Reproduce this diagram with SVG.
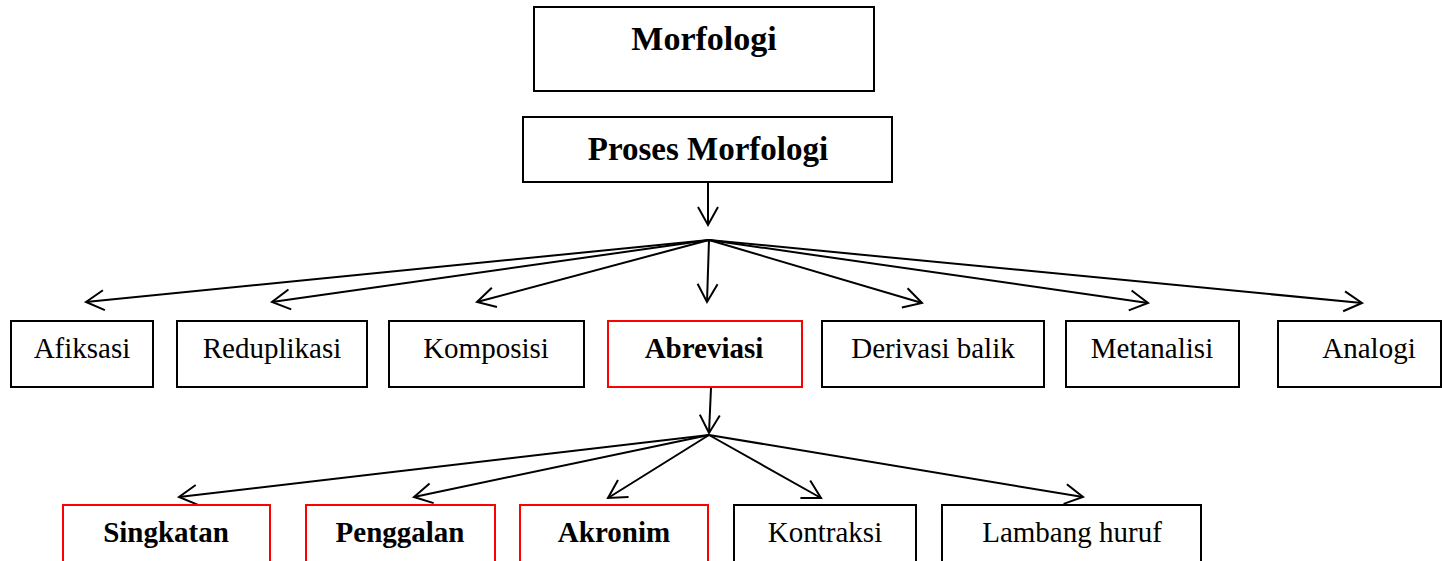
<svg xmlns="http://www.w3.org/2000/svg" width="1442" height="561" viewBox="0 0 1442 561">
<style>
.box{fill:#fff;stroke:#000;stroke-width:2}
.red{fill:#fff;stroke:#ff0000;stroke-width:2}
.t{font-family:"Liberation Serif","Times New Roman",serif;font-size:29px;fill:#000;text-anchor:middle}
.b{font-weight:bold}
.c{fill:none;stroke:#000;stroke-width:2}
</style>
<defs>
<marker id="ah" markerUnits="userSpaceOnUse" markerWidth="24" markerHeight="24" viewBox="-20 -12 22 24" refX="0" refY="0" orient="auto">
<path d="M-18,-10 L0,0 L-18,10" fill="none" stroke="#000" stroke-width="2"/>
</marker>
</defs>
<rect width="1442" height="561" fill="#fff"/>
<g id="connectors">
<line class="c" x1="708" y1="183" x2="708" y2="225" marker-end="url(#ah)"/>
<line class="c" x1="709" y1="240" x2="86" y2="302" marker-end="url(#ah)"/>
<line class="c" x1="709" y1="240" x2="272" y2="302" marker-end="url(#ah)"/>
<line class="c" x1="709" y1="240" x2="477" y2="302" marker-end="url(#ah)"/>
<line class="c" x1="709" y1="240" x2="707" y2="302" marker-end="url(#ah)"/>
<line class="c" x1="709" y1="240" x2="922" y2="303" marker-end="url(#ah)"/>
<line class="c" x1="709" y1="240" x2="1148" y2="303" marker-end="url(#ah)"/>
<line class="c" x1="709" y1="240" x2="1362" y2="303" marker-end="url(#ah)"/>
<line class="c" x1="711" y1="388" x2="709" y2="433" marker-end="url(#ah)"/>
<line class="c" x1="709" y1="435" x2="179" y2="497" marker-end="url(#ah)"/>
<line class="c" x1="709" y1="435" x2="414" y2="497" marker-end="url(#ah)"/>
<line class="c" x1="709" y1="435" x2="608" y2="498" marker-end="url(#ah)"/>
<line class="c" x1="709" y1="435" x2="821" y2="498" marker-end="url(#ah)"/>
<line class="c" x1="709" y1="435" x2="1083" y2="497" marker-end="url(#ah)"/>
</g>
<g id="morfologi"><rect class="box" x="534" y="7" width="340" height="84"/><text class="t b" x="704" y="50" style="font-size:34px">Morfologi</text></g>
<g id="proses"><rect class="box" x="523" y="117" width="369" height="65"/><text class="t b" x="708" y="160" style="font-size:33px">Proses Morfologi</text></g>
<g id="afiksasi"><rect class="box" x="11" y="321" width="142" height="66"/><text class="t" x="82" y="358">Afiksasi</text></g>
<g id="reduplikasi"><rect class="box" x="177" y="321" width="190" height="66"/><text class="t" x="272" y="358">Reduplikasi</text></g>
<g id="komposisi"><rect class="box" x="389" y="321" width="195" height="66"/><text class="t" x="486" y="358">Komposisi</text></g>
<g id="abreviasi"><rect class="red" x="608" y="321" width="194" height="66"/><text class="t b" x="704" y="358">Abreviasi</text></g>
<g id="derivasi"><rect class="box" x="822" y="321" width="222" height="66"/><text class="t" x="933" y="358">Derivasi balik</text></g>
<g id="metanalisi"><rect class="box" x="1066" y="321" width="173" height="66"/><text class="t" x="1152" y="358">Metanalisi</text></g>
<g id="analogi"><rect class="box" x="1278" y="321" width="163" height="66"/><text class="t" x="1369" y="358">Analogi</text></g>
<g id="singkatan"><rect class="red" x="63" y="505" width="207" height="70"/><text class="t b" x="166" y="542">Singkatan</text></g>
<g id="penggalan"><rect class="red" x="306" y="505" width="189" height="70"/><text class="t b" x="400" y="542">Penggalan</text></g>
<g id="akronim"><rect class="red" x="520" y="505" width="188" height="70"/><text class="t b" x="614" y="542">Akronim</text></g>
<g id="kontraksi"><rect class="box" x="734" y="505" width="182" height="70"/><text class="t" x="825" y="542">Kontraksi</text></g>
<g id="lambang"><rect class="box" x="942" y="505" width="259" height="70"/><text class="t" x="1072" y="542">Lambang huruf</text></g>
</svg>
